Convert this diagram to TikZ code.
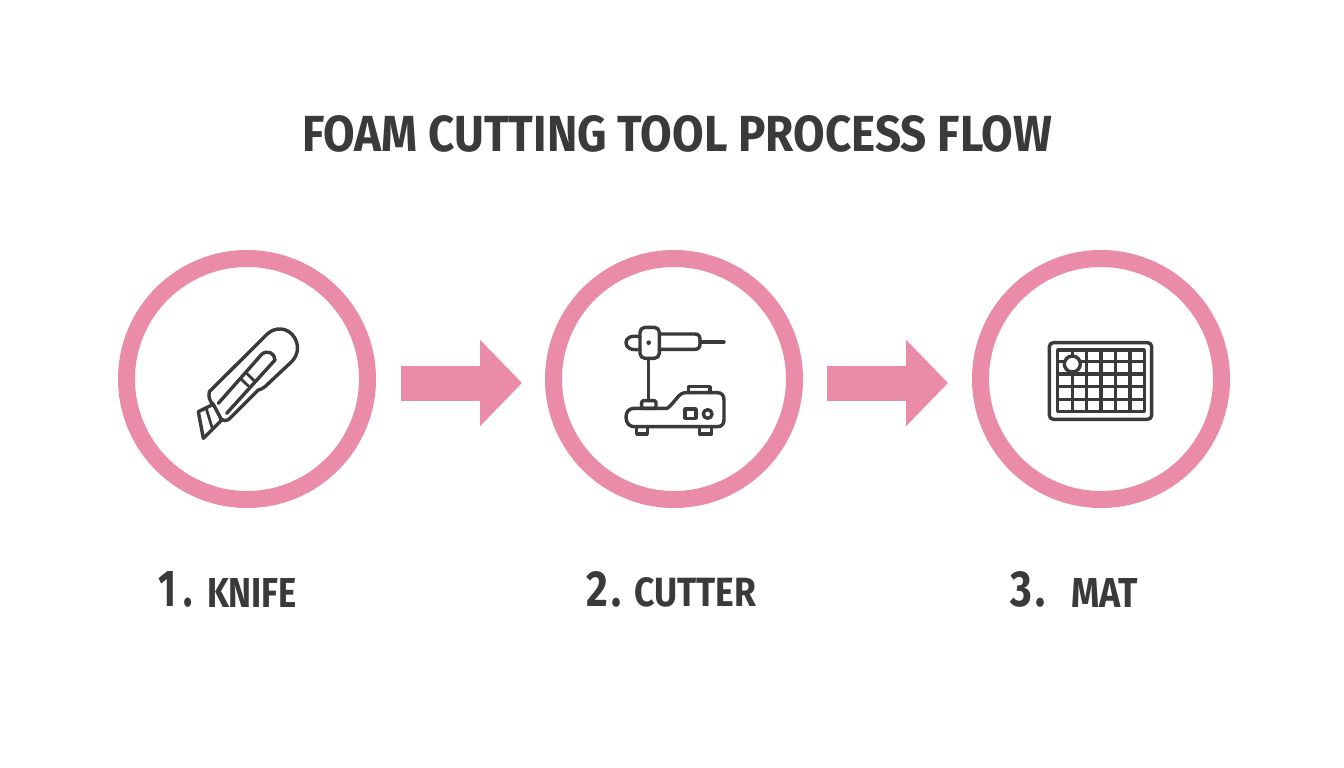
\documentclass[tikz,border=0pt]{standalone}
\usepackage{graphicx}
\usepackage{fontspec}
\setmainfont{Fira Sans}
\usetikzlibrary{arrows.meta}
\definecolor{flowpink}{HTML}{EA8CA8}
\definecolor{inkgrey}{HTML}{3A3A3A}
\tikzset{
  ring/.style={circle,draw=flowpink,line width=17pt,minimum size=241pt,inner sep=0pt,outer sep=8.5pt},
  flowarrow/.style={draw=flowpink,line width=35pt,-{Triangle[length=42pt,width=84pt]}},
  fit text/.style={anchor=south west,inner sep=0pt,outer sep=0pt,text=inkgrey,font=\bfseries},
  icon/.style={draw=inkgrey,line width=3.4pt,line cap=round,line join=round},
  thin icon/.style={draw=inkgrey,line width=2.8pt,line cap=round,line join=round},
}
\newcommand{\fitbox}[3]{\resizebox{#1pt}{#2pt}{#3}}
\begin{document}
\begin{tikzpicture}[x=1pt,y=-1pt]
\useasboundingbox (0,0) rectangle (1344,768);
\fill[white] (0,0) rectangle (1344,768);
\node[fit text] (title) at (302,152) {\fitbox{750}{36}{FOAM CUTTING TOOL PROCESS FLOW}};
\node[ring] (c1) at (247,379) {};
\node[ring] (c2) at (674,379) {};
\node[ring] (c3) at (1101,379) {};
\draw[flowarrow,shorten <=25pt,shorten >=23pt] ([yshift=-4pt]c1.east) -- ([yshift=-4pt]c2.west);
\draw[flowarrow,shorten <=24pt,shorten >=24pt] ([yshift=-4pt]c2.east) -- ([yshift=-4pt]c3.west);
\node[fit text] (n1) at (158,607) {\fitbox{35}{35}{1\kern2pt.}};
\node[fit text] (l1) at (207,607) {\fitbox{90}{29}{KNIFE}};
\node[fit text] (n2) at (586,607) {\fitbox{36}{35}{2\kern1pt.}};
\node[fit text] (l2) at (634,607) {\fitbox{122}{29}{CUTTER}};
\node[fit text] (n3) at (1010,607) {\fitbox{36}{35}{3\kern1pt.}};
\node[fit text] (l3) at (1071,607) {\fitbox{67}{29}{MAT}};
% knife
\begin{scope}[shift={(180,310)},x=0.3333pt,y=-0.3333pt]
\draw[icon] (88,245) -- (262,72) .. controls (285,50) and (325,50) .. (345,85) .. controls (360,115) and (350,140) .. (335,155) -- (255,230) .. controls (248,236) and (242,238) .. (235,240) -- (150,325) .. controls (140,335) and (128,332) .. (120,325);
\draw[icon] (88,245) .. controls (84,262) and (90,275) .. (100,283);
\draw[icon] (115,280) -- (245,133) .. controls (262,118) and (285,130) .. (285,150) -- (140,310);
\draw[icon] (55,305) -- (100,283) -- (125,330) -- (70,385) -- cycle;
\draw[thin icon] (78,293) -- (96,352);
\draw[thin icon] (183,207) -- (205,228);
\draw[thin icon] (200,190) -- (222,212);
\end{scope}
% cutter
\begin{scope}[shift={(610,310)},x=0.3333pt,y=-0.3333pt]
\draw[icon] (90,80) .. controls (60,75) and (48,85) .. (48,98) .. controls (48,112) and (60,122) .. (90,118);
\draw[icon] (148,72) -- (255,72) .. controls (265,72) and (270,78) .. (270,88) -- (270,102) .. controls (270,112) and (265,118) .. (255,118) -- (148,118);
\draw[icon,rounded corners=5pt] (90,52) rectangle (148,145);
\fill[inkgrey] (116,98) circle[radius=7];
\draw[icon] (270,96) -- (342,96);
\draw[icon] (116,145) -- (116,272);
\draw[icon,rounded corners=1.5pt] (95,272) rectangle (138,295);
\draw[icon] (172,295) -- (72,295) .. controls (55,295) and (48,308) .. (48,322) .. controls (48,338) and (58,350) .. (72,350) -- (322,350) .. controls (335,350) and (342,342) .. (342,330) -- (342,270) .. controls (342,256) and (335,248) .. (322,248) -- (228,248) .. controls (205,248) and (200,272) .. (172,295);
\draw[icon] (235,248) -- (235,230) -- (300,230) -- (300,248);
\draw[icon] (225,297) rectangle (258,325);
\draw[icon] (293,312) circle[radius=13];
\draw[icon] (80,350) -- (80,372) -- (112,372) -- (112,350);
\draw[icon] (268,350) -- (268,372) -- (305,372) -- (305,350);
\end{scope}
% mat
\begin{scope}[shift={(1035,330)},x=0.3333pt,y=-0.3333pt]
\draw[icon,rounded corners=4pt] (43,38) rectangle (350,268);
\draw[icon,line cap=butt] (68,60) rectangle (328,245);
\foreach \vx in {112,155,198,242,285} \draw[icon,line cap=butt] (\vx,60) -- (\vx,245);
\foreach \hy in {95,132,170,208} \draw[icon,line cap=butt] (68,\hy) -- (328,\hy);
\draw[icon,fill=white] (112,102) circle[radius=24];
\end{scope}
\end{tikzpicture}
\end{document}
